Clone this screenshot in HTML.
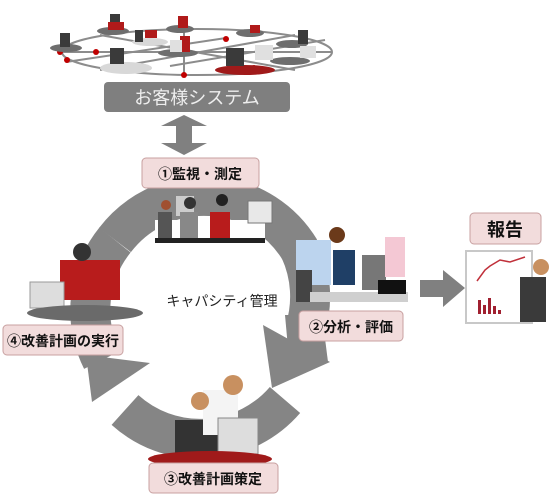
<!DOCTYPE html>
<html><head><meta charset="utf-8"><style>
html,body{margin:0;padding:0;background:#fff;width:560px;height:502px;overflow:hidden}
text{font-family:"Liberation Sans","Noto Sans CJK JP",sans-serif}
</style></head><body>
<svg width="560" height="502" viewBox="0 0 560 502" xmlns="http://www.w3.org/2000/svg">
<!-- network -->
<g stroke="#8c8c8c" stroke-width="2" fill="none">
<ellipse cx="197" cy="52" rx="135" ry="23"/>
<line x1="62" y1="52" x2="332" y2="52"/>
<line x1="100" y1="35" x2="295" y2="70"/>
<line x1="100" y1="70" x2="295" y2="35"/>
<line x1="184" y1="29" x2="184" y2="75"/>
<line x1="66" y1="62" x2="226" y2="38"/>
<line x1="170" y1="66" x2="325" y2="40"/>
</g>
<g fill="#c00000">
<circle cx="60" cy="52" r="3"/><circle cx="96" cy="52" r="3"/><circle cx="67" cy="60" r="3"/><circle cx="184" cy="75" r="3"/><circle cx="226" cy="39" r="3"/><circle cx="270" cy="52" r="3"/><circle cx="311" cy="51" r="3"/><circle cx="254" cy="68" r="3"/>
</g>
<g fill="#6e6e6e">
<ellipse cx="113" cy="31" rx="16" ry="4"/><ellipse cx="180" cy="29" rx="14" ry="4"/><ellipse cx="250" cy="33" rx="14" ry="4"/><ellipse cx="292" cy="44" rx="16" ry="4"/><ellipse cx="66" cy="48" rx="16" ry="4"/><ellipse cx="178" cy="53" rx="20" ry="4"/><ellipse cx="290" cy="61" rx="20" ry="4"/>
</g>
<ellipse cx="126" cy="68" rx="26" ry="6" fill="#d8d8d8"/><ellipse cx="150" cy="42" rx="18" ry="4" fill="#d8d8d8"/>
<ellipse cx="245" cy="70" rx="30" ry="5" fill="#a01a1a"/>
<g fill="#3a3a3a">
<rect x="110" y="14" width="10" height="14"/><rect x="60" y="33" width="10" height="14"/><rect x="110" y="48" width="14" height="16"/><rect x="226" y="48" width="18" height="18"/><rect x="298" y="30" width="10" height="14"/><rect x="135" y="30" width="8" height="12"/>
</g>
<g fill="#b01a1a"><rect x="178" y="16" width="10" height="12"/><rect x="250" y="25" width="10" height="8"/><rect x="180" y="36" width="10" height="16"/><rect x="108" y="22" width="16" height="8"/><rect x="145" y="30" width="12" height="8"/></g>
<g fill="#e0e0e0"><rect x="170" y="40" width="12" height="12"/><rect x="255" y="45" width="18" height="15"/><rect x="300" y="46" width="16" height="12"/></g>
<!-- system box -->
<rect x="104" y="82" width="186" height="30" rx="4" fill="#7f7f7f"/>
<text x="197" y="104" font-size="18" fill="#eeeeee" text-anchor="middle">お客様システム</text>
<!-- double arrow -->
<polygon points="184,115 207,126 192,126 192,143 207,143 184,155 161,143 176,143 176,126 161,126" fill="#808080"/>
<!-- ring -->
<g fill="none" stroke="#858585" stroke-width="40">
<path d="M 115 240 A 112 112 0 0 1 300 250"/>
<path d="M 300 250 A 112 112 0 0 1 305 330"/>
<path d="M 285 400 A 112 112 0 0 1 125 410"/>
<path d="M 102 360 A 112 112 0 0 1 115 240"/>
</g>
<polygon points="263,325 330,362 272,388" fill="#858585"/>
<polygon points="285,315 322,315 328,362 290,370" fill="#858585"/>
<polygon points="86,355 150,363 92,402" fill="#858585"/>
<!-- inner text -->
<text x="222" y="306" font-size="14" fill="#222" text-anchor="middle">キャパシティ管理</text>
<!-- clipart top -->
<rect x="155" y="220" width="110" height="26" fill="#fff"/>
<rect x="176" y="196" width="18" height="20" fill="#ccc"/><rect x="248" y="201" width="24" height="22" fill="#e8e8e8" stroke="#777"/>
<rect x="158" y="212" width="14" height="30" fill="#555"/><rect x="180" y="212" width="18" height="30" fill="#888"/><rect x="210" y="212" width="20" height="30" fill="#b81c1c"/>
<circle cx="166" cy="205" r="5" fill="#a05030"/><circle cx="190" cy="203" r="6" fill="#333"/><circle cx="222" cy="200" r="6" fill="#222"/>
<rect x="155" y="238" width="110" height="5" fill="#222"/>
<!-- clipart right -->
<rect x="296" y="240" width="35" height="45" fill="#bcd4ee"/><rect x="296" y="270" width="16" height="32" fill="#444"/><circle cx="337" cy="235" r="8" fill="#6b3a1a"/>
<rect x="333" y="250" width="22" height="35" fill="#1f3f66"/><rect x="362" y="255" width="24" height="35" fill="#777"/><rect x="385" y="237" width="20" height="40" fill="#f4c8d4"/>
<rect x="310" y="292" width="98" height="10" fill="#cfcfcf"/><rect x="378" y="280" width="28" height="14" fill="#111"/>
<!-- clipart left -->
<rect x="60" y="260" width="60" height="40" fill="#b81c1c"/><circle cx="82" cy="252" r="9" fill="#333"/><rect x="30" y="282" width="34" height="26" fill="#ddd" stroke="#999"/>
<ellipse cx="85" cy="313" rx="58" ry="8" fill="#6a6a6a"/>
<!-- clipart bottom -->
<rect x="175" y="420" width="50" height="40" fill="#333"/><rect x="203" y="390" width="35" height="45" fill="#f4f4f4"/><circle cx="200" cy="401" r="9" fill="#c89060"/><circle cx="233" cy="385" r="10" fill="#c89060"/>
<rect x="218" y="418" width="40" height="36" fill="#ddd" stroke="#888"/>
<ellipse cx="210" cy="459" rx="62" ry="8" fill="#a01a1a"/>
<!-- labels -->
<g stroke="#c8a0a0" stroke-width="1" fill="#f2dcdc">
<rect x="142" y="158" width="117" height="30" rx="4"/>
<rect x="299" y="311" width="104" height="30" rx="4"/>
<rect x="149" y="463" width="129" height="30" rx="4"/>
<rect x="3" y="325" width="120" height="30" rx="4"/>
<rect x="470" y="213" width="71" height="31" rx="4"/>
</g>
<g font-size="14" font-weight="bold" fill="#111" text-anchor="middle">
<text x="200" y="179">①監視・測定</text>
<text x="351" y="332">②分析・評価</text>
<text x="213" y="484">③改善計画策定</text>
<text x="63" y="346">④改善計画の実行</text>
<text x="505" y="236" font-size="18">報告</text>
</g>
<!-- right arrow -->
<polygon points="420,280 443,280 443,270 465,288 443,307 443,297 420,297" fill="#808080"/>
<!-- board -->
<rect x="466" y="251" width="66" height="72" fill="#fff" stroke="#c8c8c8" stroke-width="2"/>
<polyline points="477,281 485,270 490,266 500,260 510,262 525,257" fill="none" stroke="#c0303a" stroke-width="1.5"/>
<g fill="#a02030"><rect x="478" y="300" width="3" height="14"/><rect x="483" y="305" width="3" height="9"/><rect x="488" y="298" width="3" height="16"/><rect x="493" y="306" width="3" height="8"/><rect x="498" y="310" width="3" height="4"/></g>
<rect x="520" y="277" width="26" height="45" fill="#3a3a3a"/><circle cx="541" cy="267" r="8" fill="#c89060"/>
</svg>
</body></html>
